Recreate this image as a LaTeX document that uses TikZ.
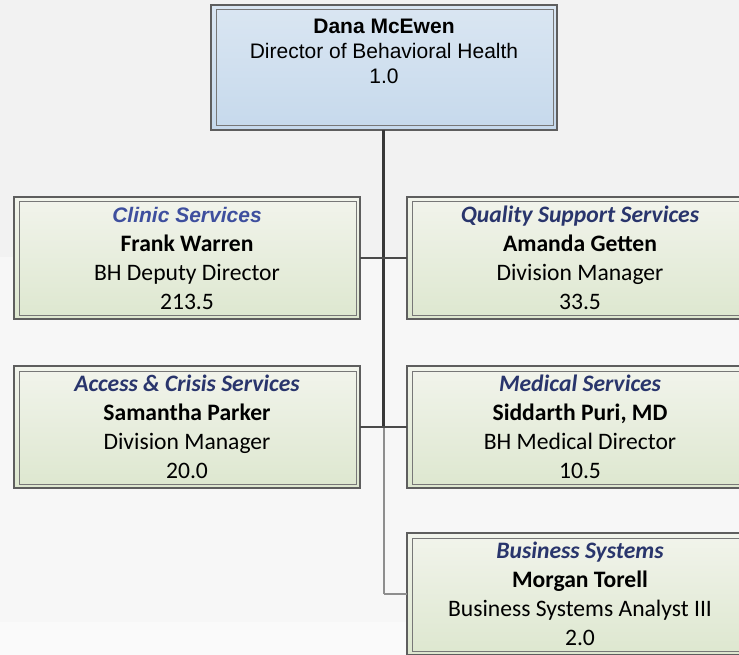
\documentclass[tikz,border=0pt]{standalone}
\usepackage{fontspec}
\setmainfont{Carlito}
\newfontfamily\arialf{Liberation Sans}
\definecolor{bgA}{HTML}{F2F2F2}
\definecolor{bgB}{HTML}{F7F7F7}
\definecolor{bgC}{HTML}{FAFAFA}
\definecolor{frameout}{HTML}{5E5E5E}
\definecolor{framein}{HTML}{777777}
\definecolor{blueTop}{HTML}{DAE6F2}
\definecolor{blueBot}{HTML}{C6D9EC}
\definecolor{greenTop}{HTML}{F2F4EC}
\definecolor{greenBot}{HTML}{DDE7CF}
\definecolor{navy}{HTML}{29356C}
\definecolor{clinicblue}{HTML}{3E4F9E}
\definecolor{lnDark}{HTML}{383838}
\definecolor{lnMid}{HTML}{4A4A4A}
\definecolor{lnLight}{HTML}{8E8E8E}
\begin{document}
\begin{tikzpicture}[x=1pt,y=-1pt,
  boxbase/.style={draw=frameout, line width=1.1pt, inner sep=0pt, outer sep=0pt, anchor=north west},
  topbox/.style={boxbase, top color=blueTop, bottom color=blueBot, minimum width=346pt, minimum height=125pt},
  unitbox/.style={boxbase, top color=greenTop, bottom color=greenBot, minimum width=346pt, minimum height=122pt},
  innerframe/.style={draw=framein, line width=1pt},
  toptext/.style={inner sep=0pt, anchor=north, align=center, font=\arialf\fontsize{21}{25}\selectfont},
  unittext/.style={inner sep=0pt, anchor=north, align=center, font=\fontsize{23.6}{29}\selectfont},
  hconn/.style={draw=lnMid, line width=1.4pt},
  vdark/.style={draw=lnDark, line width=2.1pt},
  vlight/.style={draw=lnLight, line width=2pt},
  bconn/.style={draw=lnLight, line width=1.5pt}
]
\useasboundingbox (0,0) rectangle (739,655);
\clip (0,0) rectangle (739,655);
\fill[bgA] (0,0) rectangle (739,257);
\fill[bgB] (0,257) rectangle (739,622);
\fill[bgC] (0,622) rectangle (739,655);

% boxes
\node[topbox] (dana) at (211,5) {};
\node[unitbox] (clinic) at (14,197) {};
\node[unitbox] (quality) at (407,197) {};
\node[unitbox] (access) at (14,366) {};
\node[unitbox] (medical) at (407,366) {};
\node[unitbox] (business) at (407,533) {};

\foreach \b in {dana,clinic,quality,access,medical,business}{
  \draw[innerframe] ([xshift=5pt,yshift=-5pt]\b.north west) rectangle ([xshift=-4pt,yshift=4pt]\b.south east);
}

% texts
\node[toptext] (dana-t) at ([yshift=-12pt]dana.north)
  {\rule{0pt}{16pt}\textbf{Dana McEwen}\\Director of Behavioral Health\\1.0};
\node[unittext] (clinic-t) at ([yshift=-7pt]clinic.north)
  {\rule{0pt}{18pt}{\arialf\fontsize{21}{25}\selectfont\bfseries\itshape\color{clinicblue}Clinic Services}\\\textbf{Frank Warren}\\BH Deputy Director\\213.5};
\node[unittext] (quality-t) at ([yshift=-7pt]quality.north)
  {\rule{0pt}{18pt}{\bfseries\itshape\color{navy}Quality Support Services}\\\textbf{Amanda Getten}\\Division Manager\\33.5};
\node[unittext] (access-t) at ([yshift=-7pt]access.north)
  {\rule{0pt}{18pt}{\bfseries\itshape\color{navy}Access \& Crisis Services}\\\textbf{Samantha Parker}\\Division Manager\\20.0};
\node[unittext] (medical-t) at ([yshift=-7pt]medical.north)
  {\rule{0pt}{18pt}{\bfseries\itshape\color{navy}Medical Services}\\\textbf{Siddarth Puri, MD}\\BH Medical Director\\10.5};
\node[unittext] (business-t) at ([yshift=-7pt]business.north)
  {\rule{0pt}{18pt}{\bfseries\itshape\color{navy}Business Systems}\\\textbf{Morgan Torell}\\Business Systems Analyst III\\2.0};

% connectors
\coordinate (spine) at ([xshift=-0.5pt]dana.south);
\coordinate (j2) at (spine |- access.east);
\coordinate (j3) at (spine |- business.west);
\draw[vlight] (j2) -- (j3);
\draw[bconn] (j3) -- (business.west);
\draw[vdark] (spine) -- (j2);
\draw[hconn] (clinic.east) -- (quality.west);
\draw[hconn] (access.east) -- (medical.west);
\end{tikzpicture}
\end{document}
